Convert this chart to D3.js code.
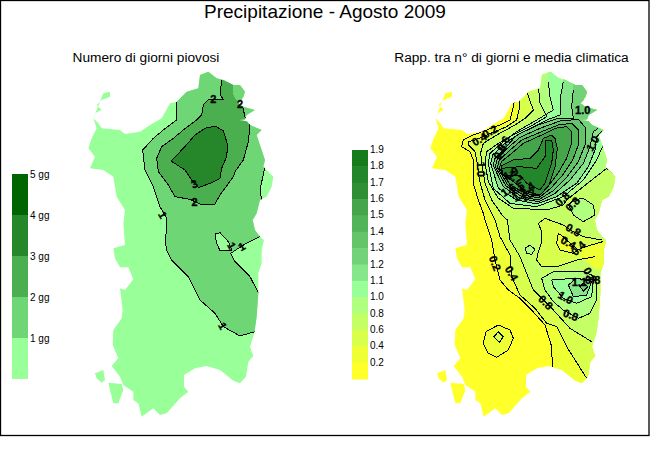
<!DOCTYPE html>
<html><head><meta charset="utf-8">
<script src="https://cdnjs.cloudflare.com/ajax/libs/d3/7.8.5/d3.min.js"></script>
<style>html,body{margin:0;padding:0;background:#fff}svg{display:block}text{font-family:"Liberation Sans",Arial,sans-serif;fill:#000}</style>
</head><body><svg id="c" width="650" height="450"></svg>
<script>
const titleText="Precipitazione - Agosto 2009";
const leftTitle="Numero di giorni piovosi";
const rightTitle="Rapp. tra n° di giorni e media climatica";
const leftLegendLabels=["5 gg","4 gg","3 gg","2 gg","1 gg"];
const leftColors=["#006400","#26872A","#4BAF50","#6FD676","#99FF99"];
const rightLegendLabels=["1.9","1.8","1.7","1.6","1.5","1.4","1.3","1.2","1.1","1.0","0.8","0.6","0.4","0.2"];
const rightColors=["#167C1B","#24862A","#2F8F35","#45A54B","#52B458","#63C46A","#71D279","#85E78A","#99FF99","#B0FF7F","#C5FF66","#D9FF4D","#EEFF33","#FFFF2A"];

// coastline in map-grid units
const coast=[[130,100],[150,95],[150,110],[125,120],[110,135],[125,150],[105,160],[100,175],[115,190],[125,205],[180,210],[195,222],[240,215],[270,195],[305,175],[330,130],[350,125],[380,95],[415,85],[420,45],[445,35],[470,55],[490,60],[520,75],[540,75],[555,95],[545,120],[535,130],[550,140],[585,150],[560,165],[555,178],[535,180],[560,184],[570,195],[605,210],[590,225],[605,270],[615,300],[610,320],[640,350],[635,380],[620,410],[600,420],[590,460],[578,480],[585,510],[600,530],[612,540],[605,570],[605,610],[595,640],[595,700],[590,770],[583,820],[570,860],[580,888],[565,905],[558,950],[540,970],[520,962],[480,930],[440,918],[405,925],[372,945],[372,980],[385,995],[360,1015],[320,1060],[300,1065],[280,1045],[245,1070],[235,1030],[220,1020],[220,995],[190,975],[180,950],[155,918],[175,895],[158,855],[160,810],[185,775],[188,750],[180,685],[195,690],[220,658],[205,622],[180,622],[165,595],[160,565],[195,555],[190,490],[195,450],[170,410],[160,350],[130,330],[90,325],[105,290],[85,265],[95,235],[110,205],[100,175]];
const isletA=[[105,940],[130,930],[135,960],[125,968],[110,955]];
const isletB=[[145,968],[185,972],[190,990],[175,1030],[160,1030],[150,990]];
const isletC=[[520,90],[555,95],[550,112],[525,105]];

// left map contours (grid units)
const left1Line=[[350,125],[350,180],[310,210],[280,235],[248,270],[255,330],[280,380],[300,440],[320,475],[320,510],[315,540],[320,570],[335,600],[385,650],[420,720],[465,760],[490,800],[540,828],[585,815]];
const left1LineB=[[596,700],[570,650],[525,605],[512,580],[555,552],[600,530]];
const left1LineC=[[605,420],[600,390],[615,320]];
const left1Close1=[[660,800]];
const left1Close2=[[660,480]];
const left1Close3=[[680,300],[680,0],[350,0]];
const left1Hole=[[465,522],[480,518],[505,545],[515,570],[480,572],[470,550]];
const left2Line=[[485,60],[480,105],[490,118],[445,118],[430,135],[425,165],[410,180],[370,210],[340,235],[305,260],[290,295],[295,335],[325,375],[345,410],[390,418],[420,432],[465,432],[480,405],[520,350],[525,335],[550,300],[565,245],[570,195],[555,170],[548,140]];
const left2Close=[[535,130],[520,105],[520,60],[485,40]];
const left3=[[333,303],[370,265],[405,225],[435,205],[465,198],[490,212],[503,255],[500,290],[485,325],[480,355],[450,370],[415,383],[395,360],[375,330]];
const leftLabels=[["2",460,118,0],["3",403,372,-20],["2",404,425,0],["1",308,465,60],["1",515,557,60],["1",545,560,-30],["1",488,798,60],["2",540,132,0]];

// right map contours (grid units)
const rightBands=[
 [12,[[283,125],[278,150],[270,180],[240,195],[160,225],[130,240],[125,260],[150,275],[160,300],[160,370],[175,420],[190,460],[195,480],[215,540],[225,600],[240,660],[265,690],[300,715],[330,745],[375,795],[395,860],[397,920]],[[397,1000],[700,1000],[700,0],[283,0]]],
 [11,[[297,115],[297,150],[290,180],[260,200],[200,225],[165,240],[145,245],[145,255],[165,275],[172,310],[178,360],[195,420],[225,480],[240,530],[270,585],[275,650],[300,705],[345,745],[380,790],[410,800],[440,860],[500,955]],[[500,1000],[700,1000],[700,0],[297,0]]],
 [10,[[320,95],[340,150],[315,175],[285,195],[230,225],[190,250],[182,278],[185,310],[195,370],[215,420],[250,470],[262,480],[270,540],[300,590],[340,690],[375,725],[400,750],[450,805],[515,845]],[[700,845],[700,0],[320,0]]]
];
const rightPatches=[
 [11,[[355,490],[375,475],[430,495],[460,515],[490,530],[545,540]],[[600,545],[600,590]]],
 [11,[[525,590],[470,600],[410,620],[365,620],[350,600],[355,575],[365,545],[365,515],[355,490]],[[375,475],[430,495],[460,515],[490,530],[545,540],[600,545],[600,590]]],
 [12,[[548,545],[490,562],[475,570],[445,545],[430,530],[415,520],[410,550],[420,570],[460,580],[475,570]],[[475,583],[505,610],[530,630],[555,620],[600,545]]],
 [9,[[445,435],[460,420],[490,415],[520,435],[525,465],[490,485],[460,465],[445,435]],[]],
 [9,[[330,555],[345,568],[335,583],[320,580],[315,565],[330,555]],[]]
];
const rightNorth=[
 [9,[[355,80],[360,130],[380,170],[330,200],[270,230],[235,250],[200,275],[195,310],[205,365],[235,415],[280,445],[330,447],[380,450],[430,435],[440,420],[500,372],[560,325],[585,345]],[[700,345],[700,0],[355,0]]],
 [8,[[385,65],[390,110],[400,150],[350,180],[290,215],[250,245],[210,280],[205,310],[220,385],[270,430],[350,440],[430,410],[490,360],[530,300],[552,250]],[[700,250],[700,0],[385,0]]],
 [7,[[430,65],[420,120],[420,165],[380,180],[300,220],[255,250],[218,285],[212,310],[235,385],[290,420],[350,432],[410,410],[470,370],[505,320],[525,270],[530,230],[545,215]],[[700,215],[700,0],[430,0]]],
 [6,[[460,90],[455,140],[460,175],[415,175],[355,195],[290,225],[255,265],[225,295],[219,315],[250,380],[300,415],[355,425],[405,400],[450,360],[490,310],[510,260],[520,215],[535,205]],[[700,205],[700,0],[460,0]]]
];
const rightRings=[
 [5,[[475,178],[420,183],[360,205],[300,232],[262,265],[232,295],[226,320],[258,378],[305,410],[355,420],[400,392],[440,352],[475,305],[495,255],[498,205]]],
 [4,[[455,190],[415,195],[365,215],[305,240],[268,272],[238,300],[232,322],[264,376],[310,405],[356,414],[392,385],[428,345],[458,300],[475,255],[475,210]]],
 [3,[[440,200],[405,205],[365,225],[310,250],[275,280],[244,305],[238,325],[270,374],[315,400],[358,408],[385,378],[415,338],[440,295],[455,250],[455,215]]],
 [2,[[395,225],[370,235],[355,270],[330,295],[280,300],[244,318],[244,340],[280,365],[320,395],[360,405],[385,380],[405,320],[412,265],[405,235]]],
 [1,[[375,240],[395,240],[400,270],[395,310],[375,370],[360,390],[320,370],[300,345],[250,345],[245,325],[300,320],[350,325],[375,290]]]
];
const rightLowRings=[
 [12,[[235,795],[270,810],[280,835],[265,870],[230,892],[205,880],[190,850],[198,815]]],
 [11,[[235,815],[250,830],[238,847],[222,830]]],
 [9,[[365,655],[375,690],[400,725],[430,750],[475,775],[510,760],[530,720],[530,670],[515,645],[490,635],[400,635]]],
 [8,[[395,660],[460,655],[520,660],[515,710],[470,730],[430,715],[400,680]]],
 [7,[[445,675],[470,655],[515,665],[500,705],[460,710]]],
 [6,[[480,680],[490,670],[503,680],[490,693]]]
];
const rightLabels=[["0.2",210,215,-30],["0.4",178,238,-30],["0.6",250,250,-60],["0.8",240,275,-60],["1.0",182,328,90],["1.9",272,340,-30],["1.7",285,352,30],["1.6",265,390,-30],["1.5",290,385,-30],["1.4",320,385,-30],["1.3",300,405,-30],["1.2",325,405,-30],["1.0",518,250,-60],["0.8",427,417,-45],["0.8",458,432,-45],["0.8",460,510,30],["0.4",445,548,30],["0.4",475,565,-45],["0.2",225,610,70],["0.4",275,640,60],["0.8",377,727,45],["1.1",478,665,0],["1.0",437,713,30],["0.8",452,765,20],["0.8",510,645,60],["0.8",518,660,0],["1.0",488,150,0]];

const svg=d3.select("#c");
const W=690,H=1080;
const xL=d3.scaleLinear().domain([0,W]).range([60,290]);
const xC=d3.scaleLinear().domain([0,W]).range([402,632]);
const xR=d3.scaleLinear().domain([0,630]).range([420,630]);
const y=d3.scaleLinear().domain([0,H]).range([60,420]);
const line=x=>d3.line().x(d=>x(d[0])).y(d=>y(d[1]));
const defs=svg.append("defs");
function clip(id,x){
  const c=defs.append("clipPath").attr("id",id);
  [coast,isletA,isletB,isletC].forEach(p=>c.append("path").attr("d",line(x)(p)+"Z"));
}
clip("cl",xL);clip("cr",xC);

svg.append("rect").attr("x",0.5).attr("y",0.5).attr("width",648.5).attr("height",435).attr("fill","none").attr("stroke","#000").attr("stroke-width",1.3);

svg.append("text").attr("x",325).attr("y",18).attr("text-anchor","middle").attr("font-size",19).text(titleText);
svg.append("text").attr("x",146).attr("y",62).attr("text-anchor","middle").attr("font-size",13.7).text(leftTitle);
svg.append("text").attr("x",511.5).attr("y",62).attr("text-anchor","middle").attr("font-size",13.7).text(rightTitle);

function band(g,x,p,color){g.append("path").attr("d",line(x)(p)+"Z").attr("fill",color).attr("stroke","none").attr("shape-rendering","crispEdges");}
function contour(g,x,p,closed){g.append("path").attr("d",line(x)(p)+(closed?"Z":"")).attr("fill","none").attr("stroke","#000").attr("stroke-width",1).attr("shape-rendering","crispEdges");}
function labels(g,x,arr){arr.forEach(d=>{
  g.append("text").attr("transform",`translate(${x(d[1])},${y(d[2])}) rotate(${d[3]})`).attr("text-anchor","middle").attr("dy","0.35em").attr("font-size",11).attr("font-weight","bold").attr("stroke","#000").attr("stroke-width",0.3).text(d[0]);});}

// left map
const gL=svg.append("g").attr("clip-path","url(#cl)");
gL.append("rect").attr("x",0).attr("y",0).attr("width",330).attr("height",450).attr("fill",leftColors[4]);
band(gL,xL,[...left1Line,...left1Close1,...left1LineB,...left1Close2,...left1LineC,...left1Close3],leftColors[3]);
band(gL,xL,left1Hole,leftColors[4]);
band(gL,xL,[...left2Line,...left2Close],leftColors[2]);
band(gL,xL,left3,leftColors[1]);
[left1Line,left1LineB,left1LineC,left2Line].forEach(p=>contour(gL,xL,p,false));
[left1Hole,left3].forEach(p=>contour(gL,xL,p,true));
labels(svg,xL,leftLabels);

// right map
const gR=svg.append("g").attr("clip-path","url(#cr)");
gR.append("rect").attr("x",340).attr("y",0).attr("width",310).attr("height",450).attr("fill",rightColors[13]);
[rightBands,rightPatches,rightNorth].forEach(a=>a.forEach(d=>band(gR,xR,[...d[1],...d[2]],rightColors[d[0]])));
rightRings.forEach(d=>band(gR,xR,d[1],rightColors[d[0]]));
rightLowRings.forEach(d=>band(gR,xR,d[1],rightColors[d[0]]));
[rightBands,rightPatches,rightNorth].forEach(a=>a.forEach(d=>contour(gR,xR,d[1],false)));
[rightRings,rightLowRings].forEach(a=>a.forEach(d=>contour(gR,xR,d[1],true)));
labels(svg,xR,rightLabels);

// legends
const lgY=d3.scaleBand().domain(leftLegendLabels).range([174,379]);
svg.selectAll(".ll").data(leftLegendLabels).join("rect").attr("x",12).attr("width",16).attr("y",d=>lgY(d)).attr("height",lgY.bandwidth()).attr("fill",(d,i)=>leftColors[i]);
svg.selectAll(".llt").data(leftLegendLabels).join("text").attr("x",30).attr("y",d=>lgY(d)+4).attr("font-size",10).text(d=>d);
const rgY=d3.scaleBand().domain(rightLegendLabels).range([150,379]);
svg.selectAll(".rl").data(rightLegendLabels).join("rect").attr("x",352).attr("width",16).attr("y",d=>rgY(d)).attr("height",rgY.bandwidth()+.5).attr("fill",(d,i)=>rightColors[i]);
svg.selectAll(".rlt").data(rightLegendLabels).join("text").attr("x",370).attr("y",d=>rgY(d)+3).attr("font-size",10).text(d=>d);
</script></body></html>
